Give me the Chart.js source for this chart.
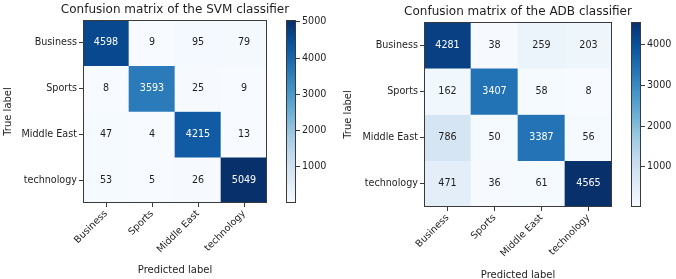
<!DOCTYPE html>
<html><head><meta charset="utf-8">
<script src="https://cdn.jsdelivr.net/npm/chart.js@4.4.1/dist/chart.umd.min.js"></script>
<style>
html,body{margin:0;padding:0;background:#fff;width:676px;height:279px;overflow:hidden;position:relative;}
canvas{position:absolute;top:0;}
</style></head><body>
<canvas id="m1" width="350" height="279" style="left:0px"></canvas>
<canvas id="c1" width="70" height="279" style="left:270px"></canvas>
<canvas id="m2" width="336" height="279" style="left:340px"></canvas>
<canvas id="c2" width="61" height="279" style="left:615px"></canvas>
<script>
// ---- data ----
const classLabels = ['Business', 'Sports', 'Middle East', 'technology'];
const svmMatrix = [
  [4598, 9, 95, 79],
  [8, 3593, 25, 9],
  [47, 4, 4215, 13],
  [53, 5, 26, 5049]
];
const adbMatrix = [
  [4281, 38, 259, 203],
  [162, 3407, 58, 8],
  [786, 50, 3387, 56],
  [471, 36, 61, 4565]
];
const svmColorbarTicks = [1000, 2000, 3000, 4000, 5000];
const adbColorbarTicks = [1000, 2000, 3000, 4000];
const svmTitle = 'Confusion matrix of the SVM classifier';
const adbTitle = 'Confusion matrix of the ADB classifier';
const xAxisTitle = 'Predicted label';
const yAxisTitle = 'True label';

// ---- styling ----
const FONT = "'DejaVu Sans', sans-serif";
const TXT = '#1e1e1e';
const LINE = '#3a3a3a';
const BLUES = ['#f7fbff','#deebf7','#c6dbef','#9ecae1','#6baed6','#4292c6','#2171b5','#08519c','#08306b'];
function hexRgb(h){return [1,3,5].map(i=>parseInt(h.substr(i,2),16));}
function blues(t){
  t = Math.max(0, Math.min(1, t));
  const p = t * 8, i = Math.min(7, Math.floor(p)), f = p - i;
  const a = hexRgb(BLUES[i]), b = hexRgb(BLUES[i+1]);
  const c = a.map((v,k)=>Math.round(v + (b[k]-v)*f));
  return 'rgb(' + c.join(',') + ')';
}

const framePlugin = {
  id: 'frame',
  afterDraw(chart){
    const {ctx, chartArea: a} = chart;
    ctx.save();
    ctx.strokeStyle = LINE; ctx.lineWidth = 1;
    ctx.strokeRect(Math.round(a.left)+0.5, Math.round(a.top)+0.5, Math.round(a.right-a.left)-1, Math.round(a.bottom-a.top)-1);
    ctx.restore();
  }
};

function makeMatrix(id, matrix, title, g){
  const flat = matrix.flat();
  const vmin = Math.min(...flat), vmax = Math.max(...flat);
  const thresh = vmax / 2;
  const datasets = matrix.map((row, r) => ({
    label: classLabels[r],
    data: row.map(() => [r, r + 1]),
    values: row,
    backgroundColor: row.map(v => blues((v - vmin) / (vmax - vmin))),
    borderWidth: 0, barPercentage: 1, categoryPercentage: 1, grouped: false
  }));
  const textPlugin = {
    id: 'cellText',
    afterDatasetsDraw(chart){
      const ctx = chart.ctx;
      ctx.save();
      ctx.font = '9.6px ' + FONT;
      ctx.textAlign = 'center'; ctx.textBaseline = 'middle';
      chart.data.datasets.forEach((ds, r) => {
        chart.getDatasetMeta(r).data.forEach((bar, c) => {
          const v = ds.values[c];
          ctx.fillStyle = v > thresh ? '#ffffff' : TXT;
          ctx.fillText(String(v), bar.x, (bar.y + bar.base) / 2);
        });
      });
      // title centred over the matrix
      const a = chart.chartArea;
      ctx.font = '12px ' + FONT;
      ctx.fillStyle = TXT;
      ctx.fillText(title, (a.left + a.right) / 2, g.titleY);
      ctx.restore();
    }
  };
  return new Chart(document.getElementById(id), {
    type: 'bar',
    data: { labels: classLabels, datasets },
    options: {
      responsive: false, animation: false, events: [],
      layout: { padding: { left: 0, right: g.padRight, top: g.top, bottom: 0 } },
      plugins: { legend: { display: false }, tooltip: { enabled: false }, title: { display: false } },
      scales: {
        x: {
          type: 'category', offset: true,
          grid: { offset: false, drawOnChartArea: false, drawTicks: true, tickLength: 4, color: LINE },
          border: { display: false },
          ticks: { minRotation: 45, maxRotation: 45, autoSkip: false, padding: 1, color: TXT, font: { family: FONT, size: 9.6 } },
          title: { display: true, text: xAxisTitle, color: TXT, font: { family: FONT, size: 10, lineHeight: 1.2 }, padding: { top: 0, bottom: g.xTitlePad } },
          afterFit(s){ s.height = g.xAxisH; }
        },
        y: {
          type: 'linear', min: 0, max: 4, reverse: true,
          afterBuildTicks(s){ s.ticks = [0.5, 1.5, 2.5, 3.5].map(v => ({ value: v })); },
          grid: { drawOnChartArea: false, drawTicks: true, tickLength: 4, color: LINE },
          border: { display: false },
          ticks: { padding: 2, color: TXT, font: { family: FONT, size: 9.6 }, callback: v => classLabels[Math.floor(v)] },
          title: { display: true, text: yAxisTitle, color: TXT, font: { family: FONT, size: 10, lineHeight: 1.2 }, padding: { top: g.yTitlePad, bottom: 0 } },
          afterFit(s){ s.width = g.yAxisW; }
        }
      }
    },
    plugins: [textPlugin, framePlugin]
  });
}

function makeColorbar(id, matrix, tickVals, g){
  const flat = matrix.flat();
  const vmin = Math.min(...flat), vmax = Math.max(...flat);
  return new Chart(document.getElementById(id), {
    type: 'bar',
    data: { labels: [''], datasets: [{
      data: [[vmin, vmax]],
      backgroundColor: (c) => {
        const a = c.chart.chartArea;
        if (!a) return BLUES[0];
        const grad = c.chart.ctx.createLinearGradient(0, a.bottom, 0, a.top);
        BLUES.forEach((col, i) => grad.addColorStop(i / 8, col));
        return grad;
      },
      borderWidth: 0, barPercentage: 1, categoryPercentage: 1
    }]},
    options: {
      responsive: false, animation: false, events: [],
      layout: { padding: { left: g.padLeft, right: 0, top: g.top, bottom: g.bottom } },
      plugins: { legend: { display: false }, tooltip: { enabled: false } },
      scales: {
        x: { display: false },
        y: {
          position: 'right', min: vmin, max: vmax,
          afterBuildTicks(s){ s.ticks = tickVals.map(v => ({ value: v })); },
          grid: { drawOnChartArea: false, drawTicks: true, tickLength: 4, color: LINE },
          border: { display: false },
          ticks: { padding: 2, color: TXT, font: { family: FONT, size: 9.6 }, callback: v => String(v) },
          afterFit(s){ s.width = g.axisW; }
        }
      }
    },
    plugins: [framePlugin]
  });
}

makeMatrix('m1', svmMatrix, svmTitle, { padRight: 83, top: 20, yAxisW: 83, xAxisH: 76, titleY: 10, xTitlePad: 3, yTitlePad: 2 });
makeColorbar('c1', svmMatrix, svmColorbarTicks, { padLeft: 16, top: 20, bottom: 76, axisW: 44 });
makeMatrix('m2', adbMatrix, adbTitle, { padRight: 64, top: 22, yAxisW: 84, xAxisH: 72, titleY: 12, xTitlePad: -2, yTitlePad: 2 });
makeColorbar('c2', adbMatrix, adbColorbarTicks, { padLeft: 16, top: 22, bottom: 72, axisW: 35 });
</script>
</body></html>
